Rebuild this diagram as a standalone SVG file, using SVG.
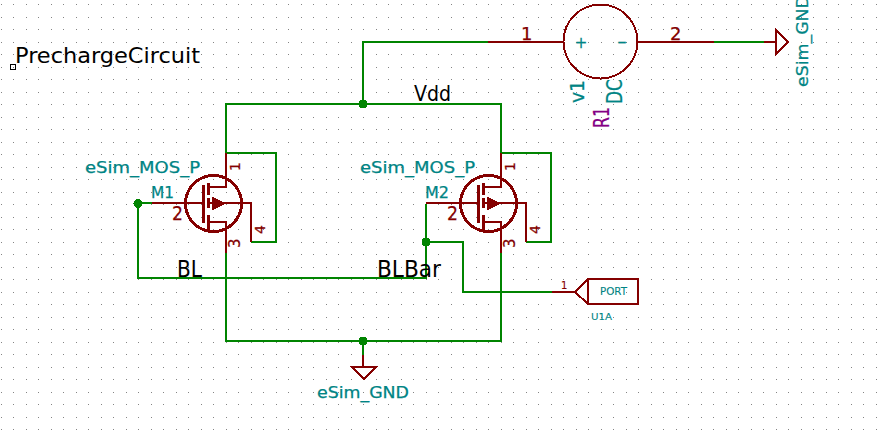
<svg xmlns="http://www.w3.org/2000/svg" width="881" height="436" viewBox="0 0 881 436">
<style>
path,circle,rect{shape-rendering:crispEdges}
.w{fill:none;stroke:#008400;stroke-width:2}
.r{fill:none;stroke:#840000;stroke-width:2}
.r3{fill:none;stroke:#840000;stroke-width:3}
.j{fill:#008400}
text{font-family:"DejaVu Sans",sans-serif;stroke-width:.25}
.t{fill:#008484;stroke:#008484}
.k{fill:#000;stroke:#000;stroke-width:0}
.p{fill:#840000;stroke:#840000}
.m{fill:#840084;stroke:#840084}
</style>
<defs>
<pattern id="grid" width="25" height="25" patternUnits="userSpaceOnUse">
<rect x="1" y="4" width="1" height="1" fill="#848484"/><rect x="13" y="4" width="1" height="1" fill="#848484"/>
<rect x="1" y="17" width="1" height="1" fill="#848484"/><rect x="13" y="17" width="1" height="1" fill="#848484"/>
</pattern>
<g id="mos">
<circle cx="213.500" cy="203.500" r="28" class="r3"/>
<path class="r3" d="M203 185V223M208 183V195M208 198V208M208 215V230"/>
<path class="r" d="M208 187H226L226 176M208 222H226V232M226 153V187M226 222V253"/>
<path class="r" d="M208 203H251V242"/>
<path d="M212 197V210L225 203.500Z" fill="#840000" stroke="#840000"/>
</g>
</defs>
<rect width="881" height="436" fill="#fff"/>
<rect width="881" height="436" fill="url(#grid)"/>
<g id="connectors">
<path class="w" d="M488 42H363V104M226 153V104H501V153M226 253V341H501V253M363 341V355M714 42H764"/>
<path class="w" d="M226 153H276V242H251M501 153H551V242H526"/>
<path class="w" d="M152 203H138V278H426V204M426 242H463V292H552"/>
<circle class="j" cx="363" cy="104" r="4.500"/>
<circle class="j" cx="363" cy="341" r="4.500"/>
<circle class="j" cx="138" cy="203.500" r="4.500"/>
<circle class="j" cx="426" cy="242" r="4.500"/>
</g>
<g id="title"><text class="k" x="15" y="63" font-size="21" textLength="185" lengthAdjust="spacingAndGlyphs">PrechargeCircuit</text>
<rect x="10.500" y="64.500" width="5" height="5" fill="none" stroke="#000"/></g>
<g id="M1">
<use href="#mos"/>
<path class="r" d="M152 203H203"/>
<text class="t" x="85" y="173" font-size="15" textLength="115" lengthAdjust="spacingAndGlyphs">eSim_MOS_P</text>
<text class="t" x="151" y="198" font-size="15" textLength="23" lengthAdjust="spacingAndGlyphs">M1</text>
<text class="p" x="172" y="220" font-size="20" textLength="11" lengthAdjust="spacingAndGlyphs">2</text>
<text class="p" transform="translate(240,171) rotate(-90)" font-size="14">1</text>
<text class="p" transform="translate(240,248) rotate(-90)" font-size="15">3</text>
<text class="p" transform="translate(265,234) rotate(-90)" font-size="14">4</text>
</g>
<g id="M2">
<use href="#mos" x="275"/>
<path class="r" d="M426 203H478"/>
<text class="t" x="360" y="173" font-size="15" textLength="115" lengthAdjust="spacingAndGlyphs">eSim_MOS_P</text>
<text class="t" x="425" y="198" font-size="15" textLength="24" lengthAdjust="spacingAndGlyphs">M2</text>
<text class="p" x="447" y="220" font-size="20" textLength="11" lengthAdjust="spacingAndGlyphs">2</text>
<text class="p" transform="translate(515,171) rotate(-90)" font-size="14">1</text>
<text class="p" transform="translate(515,248) rotate(-90)" font-size="15">3</text>
<text class="p" transform="translate(540,234) rotate(-90)" font-size="14">4</text>
</g>
<g id="v1">
<circle cx="600.500" cy="41.500" r="37" class="r"/>
<path class="r" d="M488 42H563M638 42H714M764 42H776"/>
<text class="p" x="521" y="40" font-size="18">1</text>
<text class="p" x="670" y="40" font-size="18">2</text>
<text class="t" x="581" y="48" font-size="15" text-anchor="middle">+</text>
<text class="t" x="617" y="47" font-size="15" textLength="10" lengthAdjust="spacingAndGlyphs">-</text>
<text class="t" transform="translate(584,103) rotate(-90)" font-size="20" textLength="23" lengthAdjust="spacingAndGlyphs">v1</text>
<text class="t" transform="translate(622,104) rotate(-90)" font-size="21" textLength="25" lengthAdjust="spacingAndGlyphs">DC</text>
<text class="m" transform="translate(609,128) rotate(-90)" font-size="22" textLength="21" lengthAdjust="spacingAndGlyphs">R1</text>
</g>
<g id="gnd-right">
<path class="r" d="M776 29.500V54L788 42Z"/>
<text class="t" transform="translate(808,87) rotate(-90)" font-size="15" textLength="92" lengthAdjust="spacingAndGlyphs">eSim_GND</text>
</g>
<g id="gnd-bottom">
<path class="r" d="M363 355V367M352 367H376L364 379Z"/>
<text class="t" x="317" y="398" font-size="15" textLength="92" lengthAdjust="spacingAndGlyphs">eSim_GND</text>
</g>
<g id="labels">
<text class="k" x="414" y="101" font-size="21" textLength="37" lengthAdjust="spacingAndGlyphs">Vdd</text>
<text class="k" x="177" y="277" font-size="23" textLength="25" lengthAdjust="spacingAndGlyphs">BL</text>
<text class="k" x="377" y="277" font-size="23" textLength="64" lengthAdjust="spacingAndGlyphs">BLBar</text>
</g>
<g id="port">
<path class="r" d="M552 292H575L588 279H637.500V304H588L575 292"/>
<path class="r" d="M588 279V304"/>
<text class="p" x="561" y="289" font-size="10" style="stroke-width:.1">1</text>
<text class="t" x="600" y="295" font-size="10" textLength="27" lengthAdjust="spacingAndGlyphs" style="stroke-width:.1">PORT</text>
<text class="t" x="591" y="320" font-size="9.500" textLength="21" lengthAdjust="spacingAndGlyphs" style="stroke-width:.1">U1A</text>
</g>
</svg>
